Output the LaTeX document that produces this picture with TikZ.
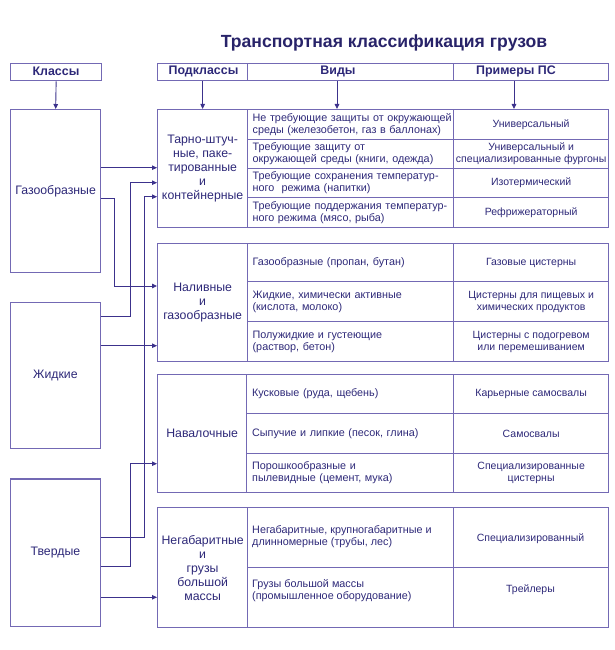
\documentclass[tikz,border=0pt]{standalone}
\usepackage{fontspec}
\setmainfont{Liberation Sans}
\usetikzlibrary{arrows.meta}
\definecolor{ink}{RGB}{45,40,120}
\definecolor{titleink}{RGB}{40,35,105}
\definecolor{frame}{RGB}{115,105,180}
\definecolor{wire}{RGB}{60,50,140}
\tikzset{
  box/.style={draw=frame, line width=1.3pt, inner sep=0pt, text=ink,
    font=\fontsize{12.3}{14}\selectfont, align=center, anchor=north west},
  cell/.style={draw=frame, line width=1.3pt, inner sep=0pt, text=ink,
    font=\fontsize{10.5}{12}\selectfont, anchor=north west},
  kind/.style={cell, minimum width=206pt, text width=196pt, inner xsep=5pt, align=left,
    font=\fontsize{10.8}{12}\selectfont},
  ex/.style={cell, minimum width=155pt, align=center},
  kindtext/.style={inner sep=0pt, text=ink, font=\fontsize{10.8}{12}\selectfont, align=left, anchor=west},
  extext/.style={inner sep=0pt, text=ink, font=\fontsize{10.5}{12}\selectfont, align=center},
  headcell/.style={draw=frame, line width=1.3pt, inner sep=0pt, anchor=north west, minimum height=17pt},
  head/.style={text=ink, font=\bfseries\fontsize{12.4}{14}\selectfont, inner sep=0pt},
  titlestyle/.style={text=titleink, font=\bfseries\fontsize{17.6}{21}\selectfont, inner sep=0pt},
  conn/.style={draw=wire, line width=0.9pt, -{Triangle[length=5pt,width=4.5pt]}},
}
\begin{document}
\begin{tikzpicture}[x=1pt,y=-1pt]
\useasboundingbox (0,0) rectangle (615,650);

% title
\node[titlestyle] (title) at (384,43) {Транспортная классификация грузов};

% header row
\node[headcell, minimum width=91pt] (hcl) at (10,63) {};
\node[headcell, minimum width=90pt] (hsub) at (157,63) {};
\node[headcell, minimum width=206pt] (hkind) at (247,63) {};
\node[headcell, minimum width=155pt] (hex) at (453,63) {};
\node[head] (tcl) at (56,71.5) {Классы};
\node[head] (tsub) at (203.5,71.5) {Подклассы};
\node[head] (tkind) at (338,71.5) {Виды};
\node[head] (tex) at (516,71.5) {Примеры ПС};

% classes
\node[box, minimum width=90pt, minimum height=163pt] (gaz) at (10,109) {Газообразные};
\node[box, minimum width=89.5pt, minimum height=146pt] (liq) at (10,301.7) {Жидкие};
\node[box, minimum width=89.5pt, minimum height=147.7pt] (sol) at (10,478.3) {Твердые};

% group 1
\node[box, minimum width=90pt, minimum height=118pt] (sub1) at (157,109)
  {Тарно-штуч-\\ные, паке-\\тированные\\и\\контейнерные};
\node[kind, minimum height=29.5pt] (k11) at (247,109)
  {\mbox{Не требующие защиты от окружающей}\\\mbox{среды (железобетон, газ в баллонах)}};
\node[ex, minimum height=29.5pt] (e11) at (453,109) {Универсальный};
\node[kind, minimum height=29.5pt] (k12) at (247,138.5)
  {Требующие защиту от\\\mbox{окружающей среды (книги, одежда)}};
\node[ex, minimum height=29.5pt] (e12) at (453,138.5)
  {Универсальный и\\специализированные фургоны};
\node[kind, minimum height=29pt] (k13) at (247,168)
  {\mbox{Требующие сохранения температур-}\\ного~ режима (напитки)};
\node[ex, minimum height=29pt] (e13) at (453,168) {Изотермический};
\node[kind, minimum height=30pt] (k14) at (247,197)
  {\mbox{Требующие поддержания температур-}\\ного режима (мясо, рыба)};
\node[ex, minimum height=30pt] (e14) at (453,197) {Рефрижераторный};

% group 2
\node[box, minimum width=90pt, minimum height=118pt] (sub2) at (157,243)
  {Наливные\\и\\газообразные};
\node[kind, minimum height=38pt] (k21) at (247,243) {Газообразные (пропан, бутан)};
\node[ex, minimum height=38pt] (e21) at (453,243) {Газовые цистерны};
\node[kind, minimum height=40pt] (k22) at (247,281)
  {Жидкие, химически активные\\(кислота, молоко)};
\node[ex, minimum height=40pt] (e22) at (453,281)
  {Цистерны для пищевых и\\химических продуктов};
\node[kind, minimum height=40pt] (k23) at (247,321)
  {Полужидкие и густеющие\\(раствор, бетон)};
\node[ex, minimum height=40pt] (e23) at (453,321)
  {Цистерны с подогревом\\или перемешиванием};

% group 3
\node[box, minimum width=89pt, minimum height=118pt] (sub3) at (157,374) {Навалочные};
\node[kind, minimum width=207pt, minimum height=39pt] (k31) at (246,374) {Кусковые (руда, щебень)};
\node[ex, minimum height=39pt] (e31) at (453,374) {Карьерные самосвалы};
\node[kind, minimum width=207pt, minimum height=40pt] (k32) at (246,413) {Сыпучие и липкие (песок, глина)};
\node[ex, minimum height=40pt] (e32) at (453,413) {Самосвалы};
\node[kind, minimum width=207pt, minimum height=39pt] (k33) at (246,453)
  {Порошкообразные и\\пылевидные (цемент, мука)};
\node[ex, minimum height=39pt] (e33) at (453,453)
  {Специализированные\\цистерны};

% group 4
\node[box, minimum width=90pt, minimum height=120pt] (sub4) at (157,507)
  {Негабаритные\\и\\грузы\\большой\\массы};
\node[kind, minimum height=60pt] (k41) at (247,507) {};
\node[ex, minimum height=60pt] (e41) at (453,507) {};
\node[kind, minimum height=60pt] (k42) at (247,567) {};
\node[ex, minimum height=60pt] (e42) at (453,567) {};
\node[kindtext] (k41t) at (252,536.5)
  {Негабаритные, крупногабаритные и\\длинномерные (трубы, лес)};
\node[extext] (e41t) at (530.5,538.5) {Специализированный};
\node[kindtext] (k42t) at (252,591)
  {Грузы большой массы\\(промышленное оборудование)};
\node[extext] (e42t) at (530.5,590) {Трейлеры};

% top arrows
\coordinate (xv) at (337,0);
\coordinate (xp) at (514,0);
\draw[conn] (hcl.south) -- (gaz.north);
\draw[conn] (hsub.south) -- (sub1.north);
\draw[conn] (hkind.south -| xv) -- (k11.north -| xv);
\draw[conn] (hex.south -| xp) -- (e11.north -| xp);

% helper coordinates
\coordinate (xa) at (130,0);
\coordinate (xb) at (144,0);
\coordinate (xc) at (114.3,0);
\coordinate (y1) at (0,167.7);
\coordinate (y2s) at (0,316.7);
\coordinate (y2) at (0,182.7);
\coordinate (y3s) at (0,537.7);
\coordinate (y3) at (0,196.7);
\coordinate (y4s) at (0,198.3);
\coordinate (y4) at (0,286);
\coordinate (y5) at (0,345.7);
\coordinate (y6s) at (0,566.7);
\coordinate (y6) at (0,463.7);
\coordinate (y7) at (0,597.3);

% side connectors
\draw[conn] (gaz.east |- y1) -- (sub1.west |- y1);
\draw[conn] (liq.east |- y2s) -| (xa |- y2) -- (sub1.west |- y2);
\draw[conn] (sol.east |- y3s) -| (xb |- y3) -- (sub1.west |- y3);
\draw[conn] (gaz.east |- y4s) -| (xc |- y4) -- (sub2.west |- y4);
\draw[conn] (liq.east |- y5) -- (sub2.west |- y5);
\draw[conn] (sol.east |- y6s) -| (xa |- y6) -- (sub3.west |- y6);
\draw[conn] (sol.east |- y7) -- (sub4.west |- y7);
\end{tikzpicture}
\end{document}
